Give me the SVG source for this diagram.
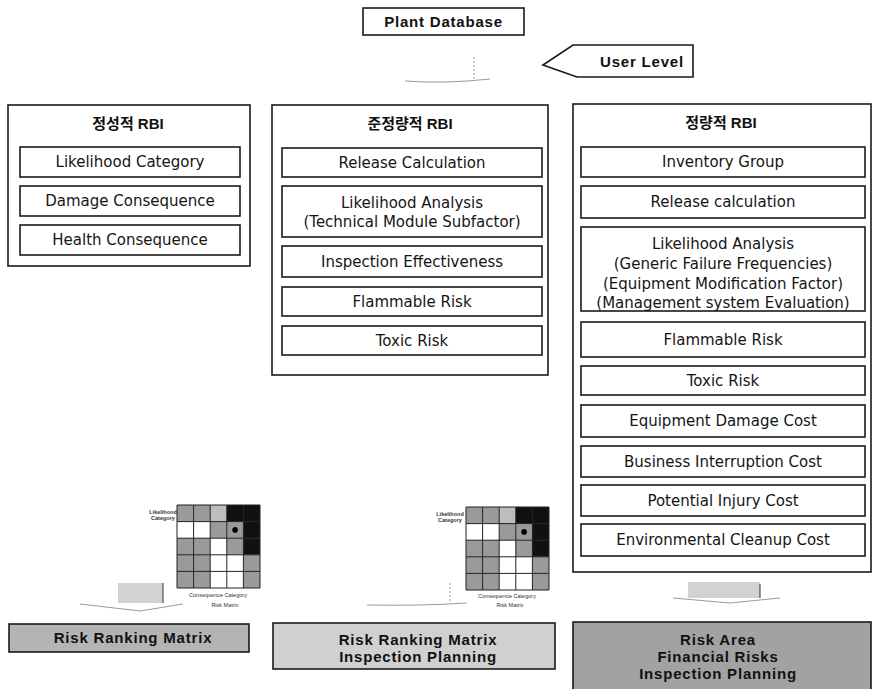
<svg xmlns="http://www.w3.org/2000/svg" width="877" height="689" viewBox="0 0 877 689">
<style>
.bg{fill:#fff}
.panel{fill:#fff;stroke:#1a1a1a;stroke-width:1.6}
.box{fill:#fff;stroke:#1a1a1a;stroke-width:1.6}
.t{font-family:"DejaVu Sans","Liberation Sans",sans-serif;font-size:15px;fill:#151515;text-anchor:middle}
.ttl{font-family:"Liberation Sans","Noto Sans CJK KR",sans-serif;font-size:15px;font-weight:bold;fill:#111;text-anchor:middle}
.b{font-family:"Liberation Sans",Arial,sans-serif;font-size:15px;font-weight:bold;fill:#111;text-anchor:middle;letter-spacing:0.8px}
.res{stroke:#1a1a1a;stroke-width:1.6}
.G{fill:#9a9a9a}.L{fill:#bdbdbd}.K{fill:#111}.W{fill:#fff}
.grid{fill:none;stroke:#222;stroke-width:1}
.tiny{font-family:"Liberation Sans",Arial,sans-serif;font-size:5.5px;fill:#333;text-anchor:middle}
.faint{fill:none;stroke:#9a9a9a;stroke-width:1}
.blk{fill:#d2d2d2;stroke:none}
</style>
<rect class="bg" x="0" y="0" width="877" height="689"/>

<g id="connectors">
  <path class="faint" d="M474 57 V80" stroke-dasharray="2 2"/>
  <path class="faint" d="M405 81 Q445 84 490 79"/>
  <rect class="blk" x="118" y="583" width="45" height="20"/>
  <path d="M163 583 V603" stroke="#333" stroke-width="1"/>
  <path class="faint" d="M80 604 L140 611 L183 604"/>
  <path class="faint" d="M450 583 V603" stroke-dasharray="2 2"/>
  <path class="faint" d="M367 605 Q420 606 467 603"/>
  <rect class="blk" x="688" y="582" width="72" height="16"/>
  <path d="M760 584 V598" stroke="#333" stroke-width="1"/>
  <path class="faint" d="M673 598 L730 603 L780 598" stroke="#555"/>
</g>

<g id="plant-database">
  <rect class="box" x="363" y="8" width="161" height="27"/>
  <text class="b" x="443.5" y="27">Plant Database</text>
</g>

<g id="user-level">
  <polygon class="box" points="543,65 573,45 693,45 693,77 577,77"/>
  <text class="b" x="642" y="67">User Level</text>
</g>

<g id="panel-qualitative">
  <rect class="panel" x="8" y="105" width="242" height="161"/>
  <text class="ttl" x="128" y="129">정성적 RBI</text>
  <rect class="box" x="20" y="147" width="220" height="30"/>
  <text class="t" x="130" y="167">Likelihood Category</text>
  <rect class="box" x="20" y="186" width="220" height="30"/>
  <text class="t" x="130" y="206">Damage Consequence</text>
  <rect class="box" x="20" y="225" width="220" height="30"/>
  <text class="t" x="130" y="245">Health Consequence</text>
</g>

<g id="panel-semi-quantitative">
  <rect class="panel" x="272" y="105" width="276" height="270"/>
  <text class="ttl" x="410" y="129">준정량적 RBI</text>
  <rect class="box" x="282" y="148" width="260" height="29"/>
  <text class="t" x="412" y="168">Release Calculation</text>
  <rect class="box" x="282" y="186" width="260" height="51"/>
  <text class="t" x="412" y="208">Likelihood Analysis</text>
  <text class="t" x="412" y="227">(Technical Module Subfactor)</text>
  <rect class="box" x="282" y="246" width="260" height="31"/>
  <text class="t" x="412" y="267">Inspection Effectiveness</text>
  <rect class="box" x="282" y="287" width="260" height="29"/>
  <text class="t" x="412" y="307">Flammable Risk</text>
  <rect class="box" x="282" y="326" width="260" height="29"/>
  <text class="t" x="412" y="346">Toxic Risk</text>
</g>

<g id="panel-quantitative">
  <rect class="panel" x="573" y="104" width="298" height="468"/>
  <text class="ttl" x="721" y="128">정량적 RBI</text>
  <rect class="box" x="581" y="147" width="284" height="30"/>
  <text class="t" x="723" y="167">Inventory Group</text>
  <rect class="box" x="581" y="186" width="284" height="32"/>
  <text class="t" x="723" y="207">Release calculation</text>
  <rect class="box" x="581" y="227" width="284" height="84"/>
  <text class="t" x="723" y="249">Likelihood Analysis</text>
  <text class="t" x="723" y="269">(Generic Failure Frequencies)</text>
  <text class="t" x="723" y="289">(Equipment Modification Factor)</text>
  <text class="t" x="723" y="308">(Management system Evaluation)</text>
  <rect class="box" x="581" y="322" width="284" height="35"/>
  <text class="t" x="723" y="345">Flammable Risk</text>
  <rect class="box" x="581" y="366" width="284" height="29"/>
  <text class="t" x="723" y="386">Toxic Risk</text>
  <rect class="box" x="581" y="405" width="284" height="32"/>
  <text class="t" x="723" y="426">Equipment Damage Cost</text>
  <rect class="box" x="581" y="446" width="284" height="31"/>
  <text class="t" x="723" y="467">Business Interruption Cost</text>
  <rect class="box" x="581" y="485" width="284" height="31"/>
  <text class="t" x="723" y="506">Potential Injury Cost</text>
  <rect class="box" x="581" y="524" width="284" height="32"/>
  <text class="t" x="723" y="545">Environmental Cleanup Cost</text>
</g>

<g id="matrix-left">
  <g transform="translate(177,505)">
    <rect class="G" x="0" y="0" width="16.6" height="16.6"/><rect class="G" x="16.6" y="0" width="16.6" height="16.6"/><rect class="L" x="33.2" y="0" width="16.6" height="16.6"/><rect class="K" x="49.8" y="0" width="16.6" height="16.6"/><rect class="K" x="66.4" y="0" width="16.6" height="16.6"/>
    <rect class="W" x="0" y="16.6" width="16.6" height="16.6"/><rect class="W" x="16.6" y="16.6" width="16.6" height="16.6"/><rect class="G" x="33.2" y="16.6" width="16.6" height="16.6"/><rect class="G" x="49.8" y="16.6" width="16.6" height="16.6"/><rect class="K" x="66.4" y="16.6" width="16.6" height="16.6"/>
    <rect class="G" x="0" y="33.2" width="16.6" height="16.6"/><rect class="G" x="16.6" y="33.2" width="16.6" height="16.6"/><rect class="W" x="33.2" y="33.2" width="16.6" height="16.6"/><rect class="G" x="49.8" y="33.2" width="16.6" height="16.6"/><rect class="K" x="66.4" y="33.2" width="16.6" height="16.6"/>
    <rect class="G" x="0" y="49.8" width="16.6" height="16.6"/><rect class="G" x="16.6" y="49.8" width="16.6" height="16.6"/><rect class="W" x="33.2" y="49.8" width="16.6" height="16.6"/><rect class="W" x="49.8" y="49.8" width="16.6" height="16.6"/><rect class="G" x="66.4" y="49.8" width="16.6" height="16.6"/>
    <rect class="G" x="0" y="66.4" width="16.6" height="16.6"/><rect class="G" x="16.6" y="66.4" width="16.6" height="16.6"/><rect class="W" x="33.2" y="66.4" width="16.6" height="16.6"/><rect class="W" x="49.8" y="66.4" width="16.6" height="16.6"/><rect class="G" x="66.4" y="66.4" width="16.6" height="16.6"/>
    <path class="grid" d="M0 0 H83 V83 H0 Z M16.6 0 V83 M33.2 0 V83 M49.8 0 V83 M66.4 0 V83 M0 16.6 H83 M0 33.2 H83 M0 49.8 H83 M0 66.4 H83"/>
    <circle cx="58.1" cy="24.9" r="2.8" fill="#000"/>
  </g>
  <text class="tiny" x="163" y="514" font-weight="bold">Likelihood</text>
  <text class="tiny" x="163" y="520" font-weight="bold">Category</text>
  <text class="tiny" x="218" y="597">Consequence Category</text>
  <text class="tiny" x="225" y="607">Risk Matrix</text>
</g>

<g id="matrix-middle">
  <g transform="translate(466,507)">
    <rect class="G" x="0" y="0" width="16.6" height="16.6"/><rect class="G" x="16.6" y="0" width="16.6" height="16.6"/><rect class="L" x="33.2" y="0" width="16.6" height="16.6"/><rect class="K" x="49.8" y="0" width="16.6" height="16.6"/><rect class="K" x="66.4" y="0" width="16.6" height="16.6"/>
    <rect class="W" x="0" y="16.6" width="16.6" height="16.6"/><rect class="W" x="16.6" y="16.6" width="16.6" height="16.6"/><rect class="G" x="33.2" y="16.6" width="16.6" height="16.6"/><rect class="G" x="49.8" y="16.6" width="16.6" height="16.6"/><rect class="K" x="66.4" y="16.6" width="16.6" height="16.6"/>
    <rect class="G" x="0" y="33.2" width="16.6" height="16.6"/><rect class="G" x="16.6" y="33.2" width="16.6" height="16.6"/><rect class="W" x="33.2" y="33.2" width="16.6" height="16.6"/><rect class="G" x="49.8" y="33.2" width="16.6" height="16.6"/><rect class="K" x="66.4" y="33.2" width="16.6" height="16.6"/>
    <rect class="G" x="0" y="49.8" width="16.6" height="16.6"/><rect class="G" x="16.6" y="49.8" width="16.6" height="16.6"/><rect class="W" x="33.2" y="49.8" width="16.6" height="16.6"/><rect class="W" x="49.8" y="49.8" width="16.6" height="16.6"/><rect class="G" x="66.4" y="49.8" width="16.6" height="16.6"/>
    <rect class="G" x="0" y="66.4" width="16.6" height="16.6"/><rect class="G" x="16.6" y="66.4" width="16.6" height="16.6"/><rect class="W" x="33.2" y="66.4" width="16.6" height="16.6"/><rect class="W" x="49.8" y="66.4" width="16.6" height="16.6"/><rect class="G" x="66.4" y="66.4" width="16.6" height="16.6"/>
    <path class="grid" d="M0 0 H83 V83 H0 Z M16.6 0 V83 M33.2 0 V83 M49.8 0 V83 M66.4 0 V83 M0 16.6 H83 M0 33.2 H83 M0 49.8 H83 M0 66.4 H83"/>
    <circle cx="58.1" cy="24.9" r="2.8" fill="#000"/>
  </g>
  <text class="tiny" x="450" y="516" font-weight="bold">Likelihood</text>
  <text class="tiny" x="450" y="522" font-weight="bold">Category</text>
  <text class="tiny" x="507" y="598">Consequence Category</text>
  <text class="tiny" x="510" y="607">Risk Matrix</text>
</g>

<g id="result-qualitative">
  <rect class="res" x="9" y="624" width="240" height="28" fill="#b4b4b4"/>
  <text class="b" x="133" y="643">Risk Ranking Matrix</text>
</g>

<g id="result-semi-quantitative">
  <rect class="res" x="273" y="623" width="282" height="46" fill="#d0d0d0"/>
  <text class="b" x="418" y="645">Risk Ranking Matrix</text>
  <text class="b" x="418" y="662">Inspection Planning</text>
</g>

<g id="result-quantitative">
  <rect class="res" x="573" y="622" width="298" height="70" fill="#a2a2a2"/>
  <text class="b" x="718" y="645">Risk Area</text>
  <text class="b" x="718" y="662">Financial Risks</text>
  <text class="b" x="718" y="679">Inspection Planning</text>
</g>
</svg>
